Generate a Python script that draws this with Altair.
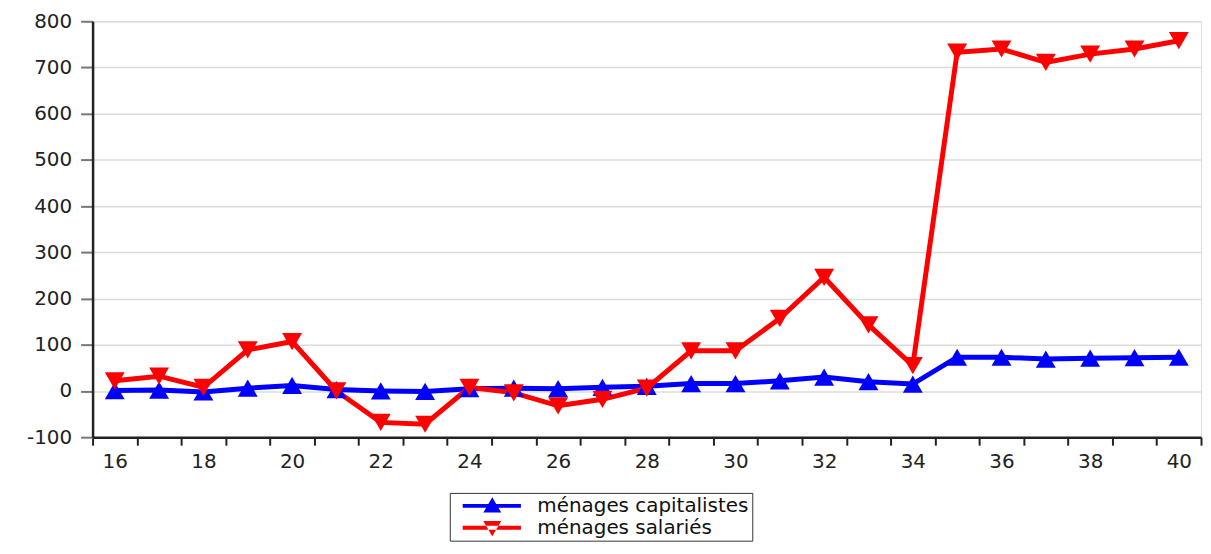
import altair as alt
import pandas as pd

years = list(range(16, 41))
capitalistes = [1, 2, -2, 6, 12, 3, 0, -1, 5, 6, 5, 8, 10, 16, 16, 22, 30, 20, 15, 73, 73, 69, 71, 72, 73]
salaries = [22, 32, 8, 89, 107, 0, -68, -72, 8, -4, -32, -18, 6, 87, 87, 157, 246, 143, 55, 733, 740, 711, 729, 740, 758]
series_names = ["ménages capitalistes", "ménages salariés"]
series_colors = ["#0000FF", "#FF0000"]
y_ticks = [-100, 0, 100, 200, 300, 400, 500, 600, 700, 800]

rows = []
for name, vals in zip(series_names, [capitalistes, salaries]):
    for yr, v in zip(years, vals):
        rows.append({"annee": yr, "valeur": v, "serie": name})
df = pd.DataFrame(rows)

x_vals = sorted([y - 0.5 for y in years] + [years[-1] + 0.5] + [y for y in years if y % 2 == 0])

FONT = "DejaVu Sans"

x_enc = alt.X(
    "annee:Q",
    scale=alt.Scale(domain=[15.5, 40.5], nice=False, zero=False),
    axis=alt.Axis(
        title=None, values=x_vals, grid=False,
        labelExpr="datum.value % 2 == 0 ? '' + datum.value : ''",
        labelOverlap=False, labelFlush=False,
        tickOpacity={"condition": {"test": "datum.value % 1 == 0", "value": 0}, "value": 1},
        tickSize=8, tickWidth=2, tickColor="#222",
        domainColor="#222", domainWidth=2.5,
        labelFont=FONT, labelFontSize=20, labelColor="#222",
        labelPadding=6,
    ),
)
y_enc = alt.Y(
    "valeur:Q",
    scale=alt.Scale(domain=[-100, 800], nice=False),
    axis=alt.Axis(
        title=None, values=y_ticks, grid=True, gridColor="#dcdcdc", gridWidth=1.5,
        labelExpr="'' + datum.value",
        tickSize=12, tickWidth=2, tickColor="#777",
        domainColor="#222", domainWidth=2.5,
        labelFont=FONT, labelFontSize=20, labelColor="#222",
        labelPadding=9,
    ),
)

legend = alt.Legend(
    title=None, orient="none", legendX=359, legendY=474,
    strokeColor="#333", fillColor="white", padding=3,
    symbolSize=324, symbolStrokeWidth=0, symbolOpacity=1,
    labelFont=FONT, labelFontSize=20, labelColor="#111", labelLimit=600,
    labelOffset=65, rowPadding=2,
)
color_enc = alt.Color("serie:N", scale=alt.Scale(domain=series_names, range=series_colors), legend=legend)

base = alt.Chart(df)

lines = base.mark_line(strokeWidth=5).encode(x=x_enc, y=y_enc, color=color_enc)

pts_up = base.transform_filter(alt.datum.serie == series_names[0]).mark_point(
    filled=True, size=400, opacity=1, shape="triangle-up"
).encode(x=x_enc, y=y_enc, color=color_enc)

pts_down = base.transform_filter(alt.datum.serie == series_names[1]).mark_point(
    filled=True, size=400, opacity=1, shape="triangle-down"
).encode(x=x_enc, y=y_enc, color=color_enc)

path_up = "M0,-0.22 H6.5 V0.22 H0 Z M2.3,0.75 L3.3,-0.95 L4.3,0.75 Z"
path_down = "M0,-0.22 H6.5 V0.22 H0 Z M2.3,-0.75 L3.3,0.95 L4.3,-0.75 Z"

legend_layer = base.mark_point(filled=True, size=0).encode(
    x=x_enc, y=y_enc, color=color_enc,
    shape=alt.Shape("serie:N", scale=alt.Scale(domain=series_names, range=[path_up, path_down]), legend=legend),
)

chart = alt.layer(lines, pts_up, pts_down, legend_layer).properties(
    width=1114, height=418,
    padding={"left": 85, "top": 12, "right": 2, "bottom": 106},
    autosize="none",
).configure_view(stroke="#333", strokeWidth=2).configure(background="white")

chart.save("out.html", embed_options={"renderer": "svg", "actions": False})
